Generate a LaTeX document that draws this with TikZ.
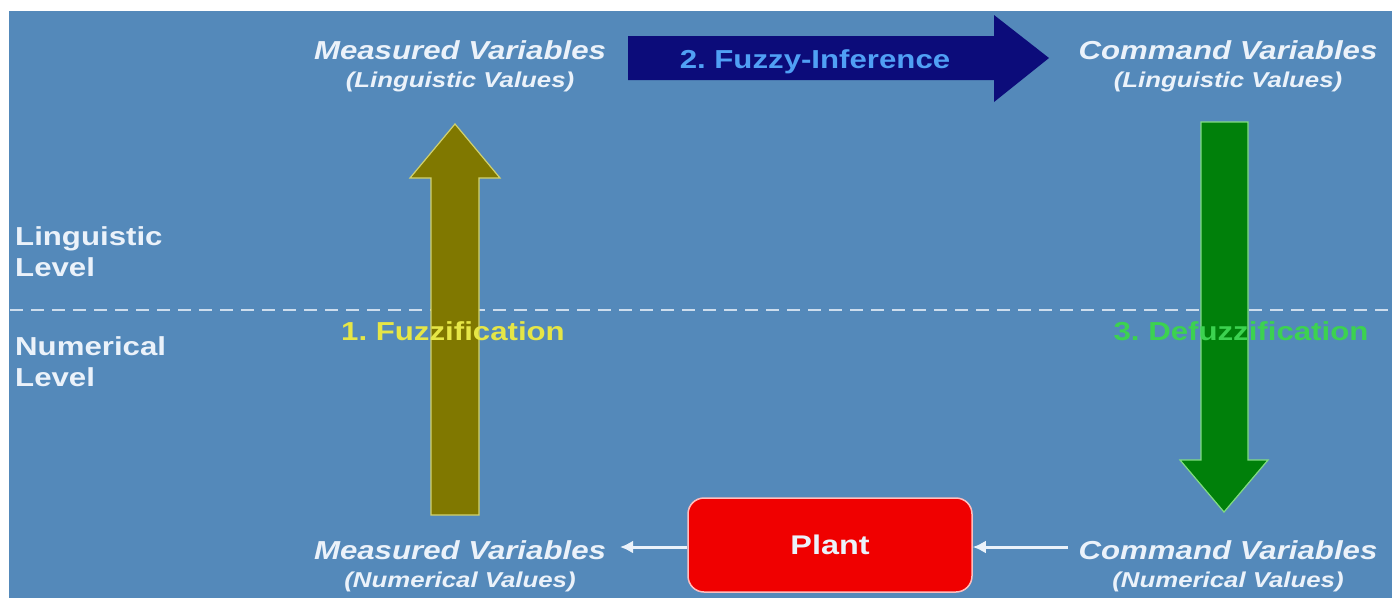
\documentclass[tikz,border=0pt]{standalone}
\usepackage{fontspec}
\setmainfont[FakeStretch=1.2]{Liberation Sans}
\usetikzlibrary{arrows.meta}
\definecolor{bgblue}{RGB}{84,137,186}
\definecolor{navyarr}{RGB}{12,12,122}
\definecolor{infblue}{RGB}{80,160,245}
\definecolor{olivearr}{RGB}{128,120,0}
\definecolor{oliveedge}{RGB}{210,210,110}
\definecolor{greenarr}{RGB}{0,128,10}
\definecolor{greenedge}{RGB}{130,220,130}
\definecolor{fuzzyel}{RGB}{230,230,70}
\definecolor{defgreen}{RGB}{60,210,80}
\definecolor{plantred}{RGB}{240,0,0}
\definecolor{plantedge}{RGB}{255,190,190}
\definecolor{txtwhite}{RGB}{235,242,250}
\frenchspacing
\tikzset{
  vartitle/.style={text=txtwhite, font=\fontsize{26}{29}\selectfont\bfseries\itshape, inner sep=0pt, anchor=center},
  varsub/.style={text=txtwhite, font=\fontsize{21.5}{24}\selectfont\bfseries\itshape, inner sep=0pt, anchor=center},
  leveltxt/.style={text=txtwhite, font=\fontsize{26}{31}\selectfont\bfseries, inner sep=0pt, anchor=north west, align=left},
  steptxt/.style={font=\fontsize{26}{29}\selectfont\bfseries, inner sep=0pt, anchor=center},
  flow/.style={draw=txtwhite, line width=3pt, -{Latex[length=13pt,width=13pt]}},
}
\begin{document}
\begin{tikzpicture}[x=1pt,y=-1pt]
\useasboundingbox (0,0) rectangle (1392,598);
\fill[white] (0,0) rectangle (1392,598);
\fill[bgblue] (9,11) rectangle (1392,598);
% level separator
\draw[txtwhite!80!bgblue, line width=1.5pt, dash pattern=on 13pt off 8pt] (10,310) -- (1392,310);
\node[leveltxt] (ling) at (15,226) {Linguistic\\Level};
\node[leveltxt] (num) at (15,336) {Numerical\\Level};
% fuzzification arrow (up)
\filldraw[fill=olivearr, draw=oliveedge, line width=1.2pt]
  (431,515) -- (431,178) -- (410,178) -- (455,124) -- (500,178) -- (479,178) -- (479,515) -- cycle;
% defuzzification arrow (down)
\filldraw[fill=greenarr, draw=greenedge, line width=1.2pt]
  (1201,122) -- (1248,122) -- (1248,460) -- (1268,460) -- (1224,512) -- (1180,460) -- (1201,460) -- cycle;
% fuzzy inference arrow (right)
\fill[navyarr] (628,36) -- (994,36) -- (994,15) -- (1049,58) -- (994,102) -- (994,80) -- (628,80) -- cycle;
\node[steptxt, text=infblue] (inf) at (815,62) {2. Fuzzy-Inference};
\node[steptxt, text=fuzzyel] (fuzz) at (453,331) {1. Fuzzification};
\node[steptxt, text=defgreen] (defuzz) at (1241,331) {3. Defuzzification};
% top variables
\node[vartitle] (mvl) at (460,50) {Measured Variables};
\node[varsub] (mvls) at (460,82) {(Linguistic Values)};
\node[vartitle] (cvl) at (1228,50) {Command Variables};
\node[varsub] (cvls) at (1228,82) {(Linguistic Values)};
% bottom variables
\node[vartitle] (mvn) at (460,550) {Measured Variables};
\node[varsub] (mvns) at (460,582) {(Numerical Values)};
\node[vartitle] (cvn) at (1228,550) {Command Variables};
\node[varsub] (cvns) at (1228,582) {(Numerical Values)};
% plant
\node[draw=plantedge, fill=plantred, line width=1.5pt, rounded corners=16pt, minimum width=284pt, minimum height=94pt, text=txtwhite, font=\fontsize{27}{30}\selectfont\bfseries, inner sep=0pt] (plant) at (830,545) {Plant};
\draw[flow] (plant.west) ++(0,2) -- (620,547);
\draw[flow] (1068,547) -- ([yshift=-2pt]plant.east);
\end{tikzpicture}
\end{document}
